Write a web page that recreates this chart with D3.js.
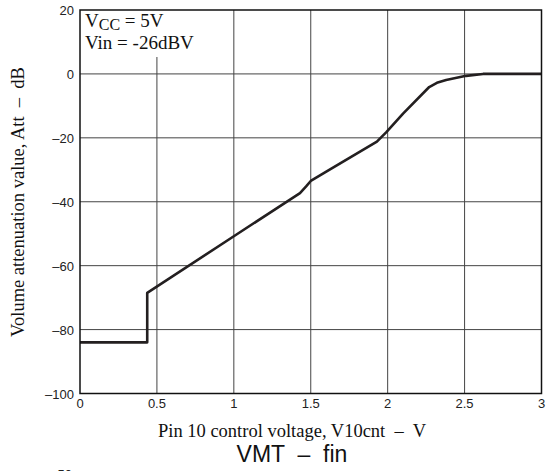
<!DOCTYPE html>
<html>
<head>
<meta charset="utf-8">
<script src="https://cdn.jsdelivr.net/npm/d3@7"></script>
<style>
body{margin:0;background:#fff}
svg{display:block}
</style>
</head>
<body>
<svg id="chart" width="555" height="471"></svg>
<script>
// values
var xTicks=[0,0.5,1,1.5,2,2.5,3]
var xTickLabels=["0","0.5","1","1.5","2","2.5","3"]
var yTicks=[20,0,-20,-40,-60,-80,-100]
var yTickLabels=["20","0","\u201320","\u201340","\u201360","\u201380","\u2013100"]
var voltage=[0,0.437,0.437,1.0,1.43,1.47,1.5,1.62,1.93,1.99,2.1,2.27,2.32,2.38,2.51,2.62,3]
var attDb=[-84,-84,-68.5,-50.8,-37.3,-35.2,-33.5,-30,-21.2,-18.3,-12.4,-4.1,-2.8,-1.9,-0.6,0,0]

var svg=d3.select("#chart")
var x=d3.scaleLinear().domain([0,3]).range([80,541.5])
var y=d3.scaleLinear().domain([-100,20]).range([393.5,10])

var sans="'Liberation Sans',Arial,sans-serif"
var serif="'Liberation Serif','Times New Roman',serif"

// grid
svg.append("g").selectAll("line")
.data(xTicks.slice(1,-1))
.enter().append("line")
.attr("x1",d=>x(d)).attr("x2",d=>x(d))
.attr("y1",y(20)).attr("y2",y(-100))
.attr("stroke","#444").attr("stroke-width",1)
svg.append("g").selectAll("line")
.data(yTicks.slice(1,-1))
.enter().append("line")
.attr("x1",x(0)).attr("x2",x(3))
.attr("y1",d=>y(d)).attr("y2",d=>y(d))
.attr("stroke","#444").attr("stroke-width",1)

// white box behind the note
svg.append("rect").attr("x",x(0)).attr("y",y(20)).attr("width",122).attr("height",47).attr("fill","#fff")

// curve
var line=d3.line().x(d=>x(d[0])).y(d=>y(d[1]))
svg.append("path")
.datum(d3.zip(voltage,attDb))
.attr("d",line)
.attr("fill","none")
.attr("stroke","#231f20")
.attr("stroke-width",2.6)
.attr("stroke-linejoin","round")

// frame
svg.append("rect")
.attr("x",x(0)).attr("y",y(20))
.attr("width",x(3)-x(0)).attr("height",y(-100)-y(20))
.attr("fill","none").attr("stroke","#111").attr("stroke-width",1.5)

// tick labels
svg.append("g").selectAll("text")
.data(xTicks)
.enter().append("text")
.attr("x",d=>x(d)).attr("y",408)
.attr("text-anchor","middle")
.attr("font-family",sans).attr("font-size","13px")
.attr("fill","#222")
.text((d,i)=>xTickLabels[i])
svg.append("g").selectAll("text")
.data(yTicks)
.enter().append("text")
.attr("x",74).attr("y",d=>y(d)+5)
.attr("text-anchor","end")
.attr("font-family",sans).attr("font-size","13px")
.attr("fill","#222")
.text((d,i)=>yTickLabels[i])

// note, two lines
svg.append("text")
.attr("x",85).attr("y",27)
.attr("font-family",serif).attr("font-size","19px").attr("fill","#111")
.call(t=>{
  t.append("tspan").text("V")
  t.append("tspan").attr("dy",3).attr("font-size","16px").text("CC")
  t.append("tspan").attr("dy",-3).text(" = 5V")
})
svg.append("text")
.attr("x",85).attr("y",49)
.attr("font-family",serif).attr("font-size","19px").attr("fill","#111")
.text("Vin = -26dBV")

// axis titles
svg.append("text")
.attr("x",292).attr("y",437)
.attr("text-anchor","middle")
.attr("font-family",serif).attr("font-size","18.5px")
.attr("fill","#111")
.attr("xml:space","preserve")
.text("Pin 10 control voltage, V10cnt  \u2013  V")
svg.append("text")
.attr("transform","translate(24,202) rotate(-90)")
.attr("text-anchor","middle")
.attr("font-family",serif).attr("font-size","18.5px")
.attr("fill","#111")
.attr("xml:space","preserve")
.text("Volume attenuation value, Att  \u2013  dB")

svg.append("text")
.attr("x",292).attr("y",462)
.attr("text-anchor","middle")
.attr("font-family",sans).attr("font-size","23px")
.attr("fill","#111")
.attr("xml:space","preserve")
.text("VMT  \u2013  fin")

// top of next chart's tick label, cut off at the bottom edge
svg.append("text")
.attr("x",72).attr("y",479)
.attr("text-anchor","end")
.attr("font-family",sans).attr("font-size","13px")
.attr("fill","#222")
.text("50")
</script>
</body>
</html>
